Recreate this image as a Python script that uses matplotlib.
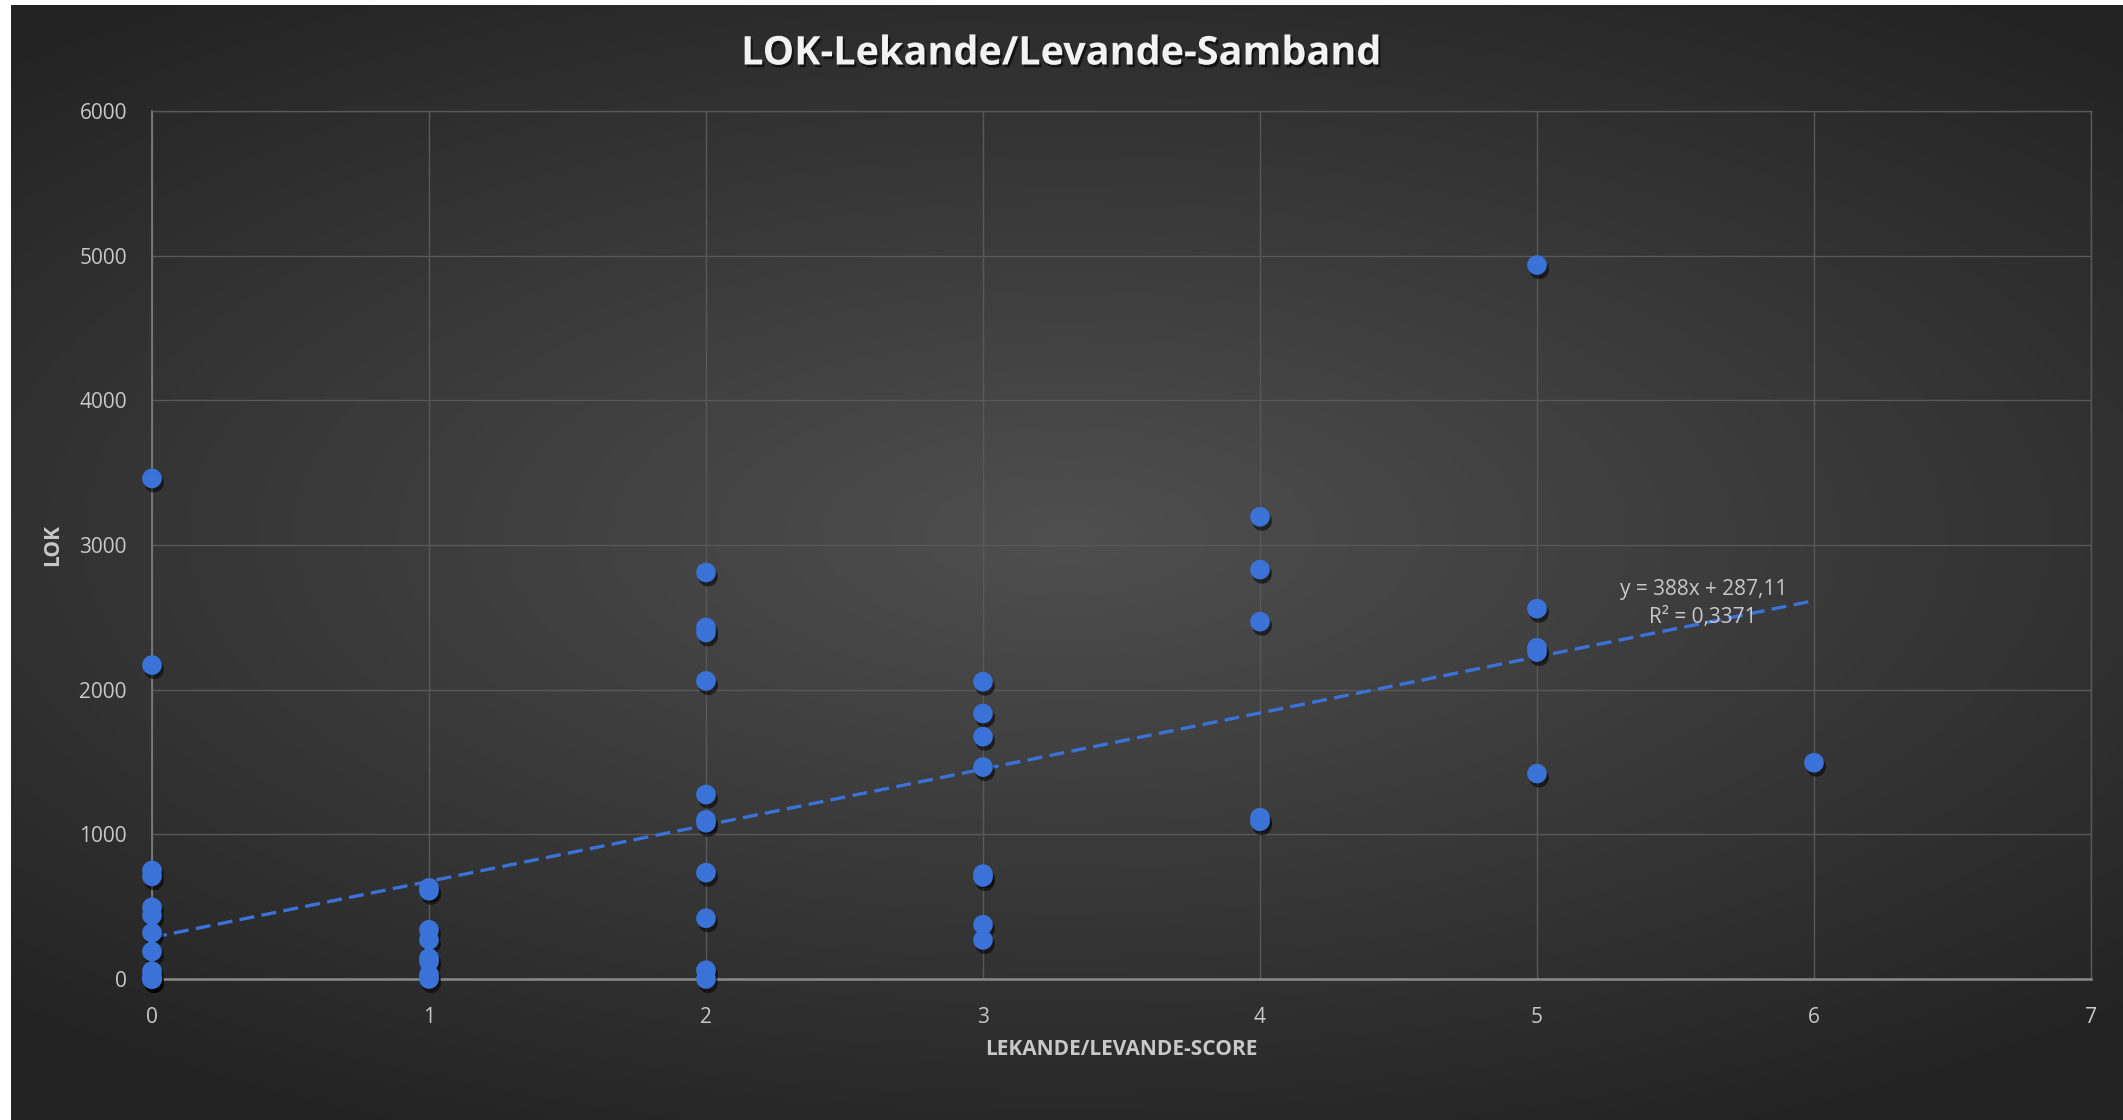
import numpy as np
import matplotlib.pyplot as plt
import matplotlib.patheffects as pe

# values
score_0 = [3460, 2170, 750, 710, 495, 440, 320, 190, 55, 15, 0, 0, 0]
score_1 = [630, 610, 340, 270, 145, 120, 30, 0]
score_2 = [2810, 2430, 2395, 2060, 1275, 1100, 1080, 735, 420, 60, 0]
score_3 = [2055, 1835, 1675, 1465, 725, 705, 375, 270]
score_4 = [3195, 2830, 2470, 1115, 1090]
score_5 = [4935, 2560, 2290, 2260, 1420]
score_6 = [1495]
groups = [score_0, score_1, score_2, score_3, score_4, score_5, score_6]

slope = 388
intercept = 287.11
r2_text = "R² = 0,3371"
eq_text = "y = 388x + 287,11"

xs = []
ys = []
for score, vals in enumerate(groups):
    xs += [score] * len(vals)
    ys += vals

blue = '#3A72D8'
txt = '#C8C8C8'
font = ['Open Sans', 'DejaVu Sans']

fig = plt.figure(figsize=(21.23, 11.2), dpi=100)
fig.patch.set_facecolor('white')

# dark radial background
bg = fig.add_axes([11 / 2123, 0, 1 - 11 / 2123, 1 - 5 / 1120])
gx, gy = np.meshgrid(np.linspace(-1, 1, 400), np.linspace(-1, 1, 220))
r = np.sqrt((gx * 0.9) ** 2 + ((gy + 0.05) * 1.1) ** 2)
r = np.clip(r / 1.3, 0, 1)
shade = 0.31 - 0.17 * r
img = np.dstack([shade, shade, shade])
bg.imshow(img, aspect='auto', extent=[0, 1, 0, 1], interpolation='bilinear')
bg.axis('off')

ax = fig.add_axes([152 / 2123, 1 - 979 / 1120, (2091 - 152) / 2123, (979 - 111) / 1120])
ax.set_facecolor('none')

ax.set_xlim(0, 7)
ax.set_ylim(0, 6000)
ax.set_xticks(range(0, 8))
ax.set_yticks(range(0, 6001, 1000))
ax.grid(True, color='#585858', linewidth=1.0)
ax.set_axisbelow(True)
for side in ['top', 'right']:
    ax.spines[side].set_color('#585858')
    ax.spines[side].set_linewidth(1.0)
ax.spines['left'].set_color('#7A7A7A')
ax.spines['left'].set_linewidth(1.3)
ax.spines['bottom'].set_color('#8A8A8A')
ax.spines['bottom'].set_linewidth(1.8)
ax.tick_params(length=0, colors=txt, labelsize=15)
ax.tick_params(axis='x', pad=20)
ax.tick_params(axis='y', pad=18)
for lab in ax.get_xticklabels() + ax.get_yticklabels():
    lab.set_family(font)

# trendline
tx = np.array([0, 6])
ax.plot(tx, slope * tx + intercept, color=blue, lw=2.4, ls=(0, (4.5, 2.2)), zorder=3)

sc = ax.scatter(xs, ys, s=200, color=blue, zorder=4, clip_on=False,
                edgecolors='none')
sc.set_path_effects([pe.SimplePatchShadow(offset=(1.5, -3), shadow_rgbFace='black', alpha=0.55),
                     pe.Normal()])

ax.text(5.6, 2690, eq_text, ha='center', va='center', fontsize=15, color=txt,
        family=font, zorder=5)
ax.text(5.6, 2500, r2_text, ha='center', va='center', fontsize=15, color=txt,
        family=font, zorder=5)

ax.set_xlabel('LEKANDE/LEVANDE-SCORE', fontsize=15, fontweight='bold', color=txt,
              family=font, labelpad=8)
ax.set_ylabel('LOK', fontsize=15, fontweight='bold', color=txt, family=font,
              labelpad=12)

fig.text(0.5, 1 - 54 / 1120, 'LOK-Lekande/Levande-Samband', ha='center', va='center',
         fontsize=28.5, fontweight='bold', color='#F2F2F2', family=font,
         path_effects=[pe.withSimplePatchShadow(offset=(1.5, -2), shadow_rgbFace='black', alpha=0.6)])

fig.savefig('out.png', dpi=100, facecolor=fig.get_facecolor())
